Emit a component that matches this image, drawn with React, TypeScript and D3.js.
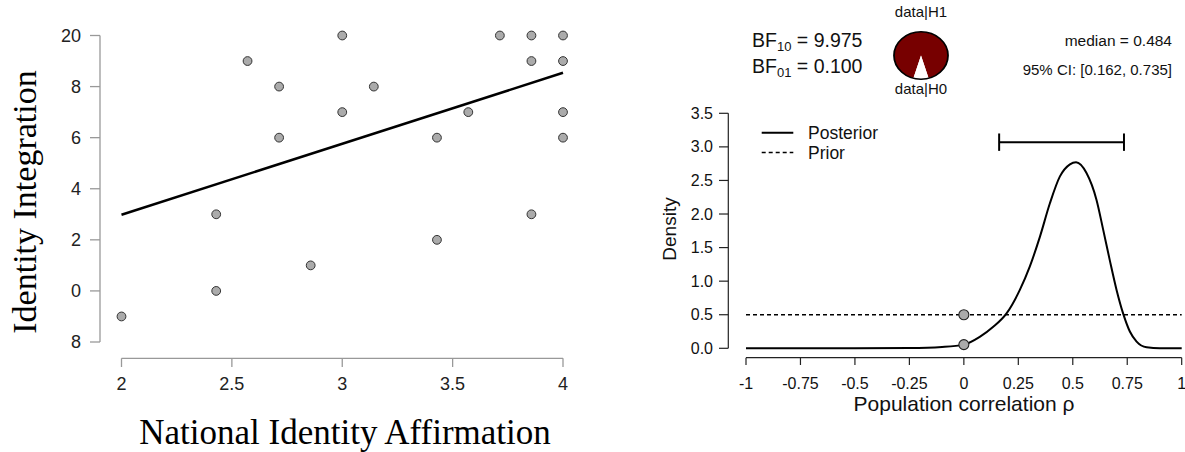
import React from "react";
import * as d3 from "d3";

// left panel: scatter of the two scale scores
const affirmation = [3, 3.714, 3.857, 4, 2.571, 3.857, 4, 2.714, 3.143, 3, 3.571, 4, 2.714, 3.429, 4, 2.429, 3.857, 3.429, 2.857, 2.429, 2];
const integration = [10, 10, 10, 10, 9, 9, 9, 8, 8, 7, 7, 7, 6, 6, 6, 3, 3, 2, 1, 0, -1];
const fitX = [2, 4];
const fitY = [2.98, 8.54];
const leftXTicks = [2, 2.5, 3, 3.5, 4];
const leftXLabels = ["2", "2.5", "3", "3.5", "4"];
const leftYTicks = [-2, 0, 2, 4, 6, 8, 10];
const leftYLabels = ["8", "0", "2", "4", "6", "8", "20"];

// right panel: prior and posterior for rho
const rho = [-1, -0.5, -0.25, -0.1, 0, 0.073, 0.135, 0.196, 0.257, 0.303, 0.349, 0.395, 0.441, 0.487, 0.515, 0.563, 0.609, 0.64, 0.67, 0.701, 0.731, 0.762, 0.793, 0.839, 0.9, 1];
const posterior = [0, 0, 0.004, 0.02, 0.055, 0.17, 0.32, 0.52, 0.87, 1.22, 1.66, 2.16, 2.56, 2.74, 2.77, 2.61, 2.21, 1.76, 1.31, 0.87, 0.52, 0.25, 0.1, 0.015, 0, 0];
const priorRho = [-1, 1];
const prior = [0.5, 0.5];
const pointRho = [0, 0];
const pointDensity = [0.5, 0.055];
const ci = [0.162, 0.735];
const ciHeight = 3.07;
const rhoTicks = [-1, -0.75, -0.5, -0.25, 0, 0.25, 0.5, 0.75, 1];
const rhoLabels = ["-1", "-0.75", "-0.5", "-0.25", "0", "0.25", "0.5", "0.75", "1"];
const densityTicks = [0, 0.5, 1, 1.5, 2, 2.5, 3, 3.5];
const bf10 = 9.975;
const bf01 = 0.1;
const median = 0.484;

const sans = "'Liberation Sans', Arial, sans-serif";
const serif = "'Liberation Serif', 'Times New Roman', serif";

export default function App() {
  const lx = d3.scaleLinear().domain([2, 4]).range([121.5, 563]);
  const ly = d3.scaleLinear().domain([-2, 10]).range([342, 35.5]);
  const rx = d3.scaleLinear().domain([-1, 1]).range([746, 1181.7]);
  const ry = d3.scaleLinear().domain([0, 3.5]).range([348.3, 113.3]);

  const fitLine = d3.line<number>().x((d) => lx(d)).y((_, i) => ly(fitY[i]));
  const postLine = d3
    .line<number>()
    .x((d) => rx(d))
    .y((_, i) => ry(posterior[i]))
    .curve(d3.curveMonotoneX);
  const priorLine = d3.line<number>().x((d) => rx(d)).y((_, i) => ry(prior[i]));

  // pie: H0 wedge centred at the bottom
  const frac = 1 / (1 + bf10);
  const a = frac * 2 * Math.PI;
  const pie = d3
    .pie<number>()
    .sort(null)
    .value((d) => d)
    .startAngle(Math.PI + a / 2)
    .endAngle(3 * Math.PI + a / 2);
  const arcs = pie([bf10, 1]);
  const arc = d3.arc<d3.PieArcDatum<number>>().innerRadius(0).outerRadius(27);

  const axisL = "#999";
  const axisR = "#222";

  return (
    <>
      <style>{`body{margin:0}`}</style>
      <svg width={1185} height={452} style={{ display: "block", background: "#fff" }}>
        {/* ---------- left scatter ---------- */}
        <g fontFamily={sans} fontSize={18} fill="#222">
          <line x1={100} x2={100} y1={ly(10)} y2={ly(-2)} stroke={axisL} strokeWidth={1.3} />
          {leftYTicks.map((t, i) => (
            <g key={t}>
              <line x1={90} x2={100} y1={ly(t)} y2={ly(t)} stroke={axisL} strokeWidth={1.3} />
              <text x={81} y={ly(t)} dy="0.35em" textAnchor="end">
                {leftYLabels[i]}
              </text>
            </g>
          ))}
          <line x1={lx(2)} x2={lx(4)} y1={358.3} y2={358.3} stroke={axisL} strokeWidth={1.3} />
          {leftXTicks.map((t, i) => (
            <g key={t}>
              <line x1={lx(t)} x2={lx(t)} y1={358.3} y2={367} stroke={axisL} strokeWidth={1.3} />
              <text x={lx(t)} y={389.5} textAnchor="middle">
                {leftXLabels[i]}
              </text>
            </g>
          ))}
          <path d={fitLine(fitX) ?? ""} stroke="#000" strokeWidth={2.5} fill="none" />
          {affirmation.map((v, i) => (
            <circle key={i} cx={lx(v)} cy={ly(integration[i])} r={4.4} fill="#ababab" stroke="#333" strokeWidth={1} />
          ))}
          <text
            transform="translate(36,202) rotate(-90)"
            textAnchor="middle"
            fontFamily={serif}
            fontSize={34}
            fill="#000"
          >
            Identity Integration
          </text>
          <text x={345} y={444} textAnchor="middle" fontFamily={serif} fontSize={35} fill="#000">
            National Identity Affirmation
          </text>
        </g>

        {/* ---------- right prior/posterior ---------- */}
        <g fontFamily={sans} fill="#111">
          <line x1={728.3} x2={728.3} y1={ry(3.5)} y2={ry(0)} stroke={axisR} strokeWidth={1.2} />
          {densityTicks.map((t) => (
            <g key={t}>
              <line x1={719} x2={728.3} y1={ry(t)} y2={ry(t)} stroke={axisR} strokeWidth={1.2} />
              <text x={713} y={ry(t)} dy="0.35em" textAnchor="end" fontSize={16}>
                {t.toFixed(1)}
              </text>
            </g>
          ))}
          <line x1={rx(-1)} x2={rx(1)} y1={357.7} y2={357.7} stroke={axisR} strokeWidth={1.2} />
          {rhoTicks.map((t, i) => (
            <g key={t}>
              <line x1={rx(t)} x2={rx(t)} y1={357.7} y2={365} stroke={axisR} strokeWidth={1.2} />
              <text x={rx(t)} y={389} textAnchor="middle" fontSize={16}>
                {rhoLabels[i]}
              </text>
            </g>
          ))}
          <text transform="translate(676,229) rotate(-90)" textAnchor="middle" fontSize={19}>
            Density
          </text>
          <text x={964} y={410.5} textAnchor="middle" fontSize={21}>
            Population correlation ρ
          </text>

          <path d={priorLine(priorRho) ?? ""} stroke="#000" strokeWidth={1.6} strokeDasharray="4,3" fill="none" />
          <path d={postLine(rho) ?? ""} stroke="#000" strokeWidth={2} fill="none" />
          {pointRho.map((v, i) => (
            <circle key={i} cx={rx(v)} cy={ry(pointDensity[i])} r={5} fill="#ababab" stroke="#222" strokeWidth={1.1} />
          ))}

          {/* credible interval */}
          <g stroke="#000" strokeWidth={2}>
            <line x1={rx(ci[0])} x2={rx(ci[1])} y1={ry(ciHeight)} y2={ry(ciHeight)} />
            <line x1={rx(ci[0])} x2={rx(ci[0])} y1={ry(ciHeight) - 8.7} y2={ry(ciHeight) + 8.7} />
            <line x1={rx(ci[1])} x2={rx(ci[1])} y1={ry(ciHeight) - 8.7} y2={ry(ciHeight) + 8.7} />
          </g>

          {/* legend */}
          <line x1={761.7} x2={793.3} y1={132.7} y2={132.7} stroke="#000" strokeWidth={2} />
          <text x={808} y={138.5} fontSize={17.5}>
            Posterior
          </text>
          <line x1={761.7} x2={793.3} y1={152.5} y2={152.5} stroke="#000" strokeWidth={1.6} strokeDasharray="4,3" />
          <text x={808} y={158.5} fontSize={17.5}>
            Prior
          </text>

          {/* Bayes factors */}
          <text x={752} y={47} fontSize={19.5}>
            BF<tspan fontSize={13} dy={4}>10</tspan>
            <tspan dy={-4}> = {bf10.toFixed(3)}</tspan>
          </text>
          <text x={752} y={72.5} fontSize={19.5}>
            BF<tspan fontSize={13} dy={4}>01</tspan>
            <tspan dy={-4}> = {bf01.toFixed(3)}</tspan>
          </text>

          <g transform="translate(921,55.5) scale(1,0.88)">
            {arcs.map((d, i) => (
              <path key={i} d={arc(d) ?? ""} fill={i === 0 ? "#770000" : "#fff"} stroke="none" />
            ))}
            <circle r={27} fill="none" stroke="#000" strokeWidth={1.8} />
          </g>
          <text x={921} y={17} textAnchor="middle" fontSize={15}>
            data|H1
          </text>
          <text x={921} y={94} textAnchor="middle" fontSize={15}>
            data|H0
          </text>

          <text x={1172} y={46} textAnchor="end" fontSize={15.5}>
            median = {median.toFixed(3)}
          </text>
          <text x={1172} y={75} textAnchor="end" fontSize={15}>
            95% CI: [{ci[0].toFixed(3)}, {ci[1].toFixed(3)}]
          </text>
        </g>
      </svg>
    </>
  );
}
